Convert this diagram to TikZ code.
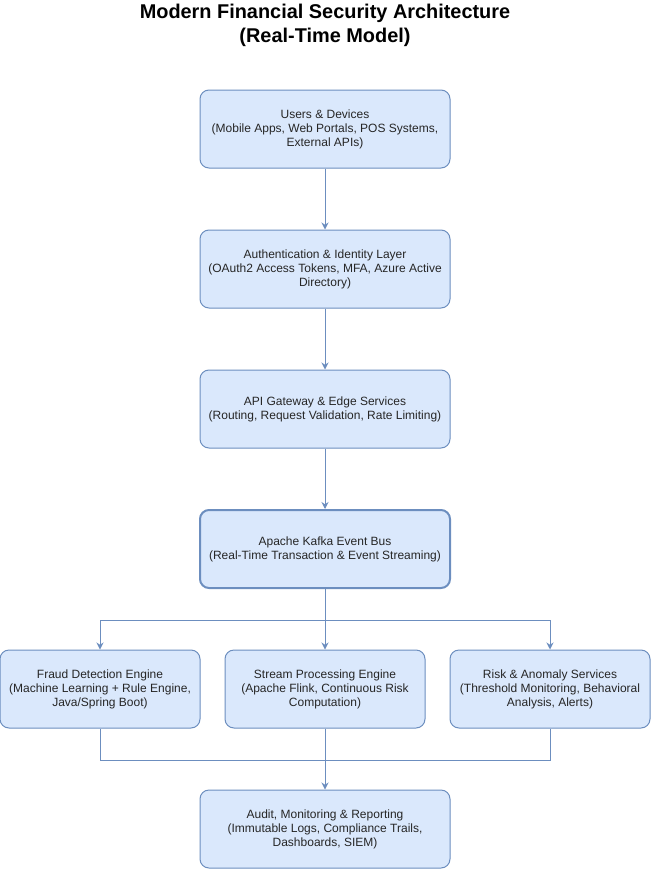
\documentclass[tikz,border=0pt]{standalone}
\usepackage{fontspec}
\setmainfont{Liberation Sans}
\usepackage{xcolor}
\definecolor{boxfill}{HTML}{DAE8FC}
\definecolor{boxline}{HTML}{6C8EBF}
\usetikzlibrary{arrows.meta}
\usetikzlibrary{positioning}

\begin{document}
\begin{tikzpicture}[x=1pt,y=1pt,line width=1pt,
    box/.style={draw=boxline,fill=boxfill,rounded corners=9pt,minimum width=250pt,minimum height=78pt,align=center,font=\fontsize{12}{14}\selectfont,text=black!85},
    smallbox/.style={box,minimum width=200pt},
    link/.style={draw=boxline,-{Stealth[length=7pt,width=7pt]}}]
  \useasboundingbox (0,0) rectangle (651,-870);
  \node[align=center,font=\fontsize{19.9}{24}\selectfont\bfseries](title) at (325,-25) {Modern Financial Security Architecture\\(Real-Time Model)};

  % main column
  \node[box](users) at (325,-129) {Users \& Devices\\(Mobile Apps, Web Portals, POS Systems,\\External APIs)};
  \node[box](auth) at (325,-269) {Authentication \& Identity Layer\\(OAuth2 Access Tokens, MFA, Azure Active\\Directory)};
  \node[box](gateway) at (325,-409) {API Gateway \& Edge Services\\(Routing, Request Validation, Rate Limiting)};
  \node[box,line width=2pt](kafka) at (325,-549) {Apache Kafka Event Bus\\(Real-Time Transaction \& Event Streaming)};

  % consumers
  \node[smallbox](fraud) at (100,-689) {Fraud Detection Engine\\(Machine Learning + Rule Engine,\\Java/Spring Boot)};
  \node[smallbox](stream) at (325,-689) {Stream Processing Engine\\(Apache Flink, Continuous Risk\\Computation)};
  \node[smallbox](risk) at (550,-689) {Risk \& Anomaly Services\\(Threshold Monitoring, Behavioral\\Analysis, Alerts)};

  \node[box](audit) at (325,-829) {Audit, Monitoring \& Reporting\\(Immutable Logs, Compliance Trails,\\Dashboards, SIEM)};

  \coordinate (split) at (325,-620);
  \coordinate (join) at (325,-760);

  \draw[link] (users) -- (auth);
  \draw[link] (auth) -- (gateway);
  \draw[link] (gateway) -- (kafka);
  \draw[draw=boxline] (kafka) -- (split);
  \draw[link] (split) -| (fraud);
  \draw[link] (split) -- (stream);
  \draw[link] (split) -| (risk);
  \draw[draw=boxline] (fraud) |- (join);
  \draw[draw=boxline] (risk) |- (join);
  \draw[link] (stream) -- (audit);
\end{tikzpicture}
\end{document}
